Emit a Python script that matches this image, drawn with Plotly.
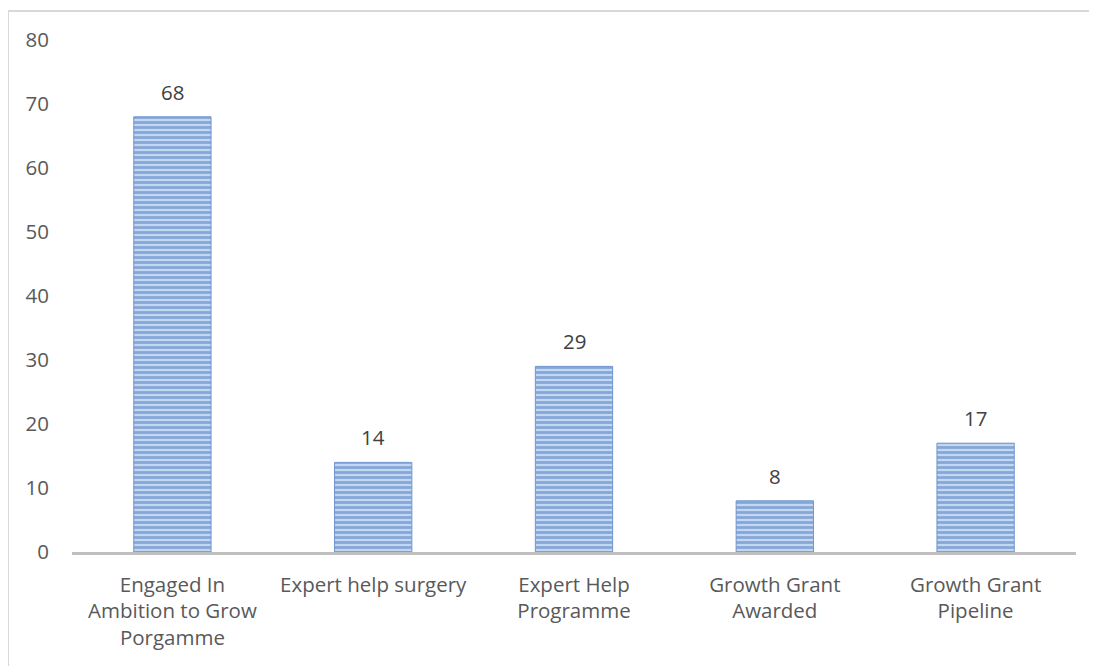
import plotly.graph_objects as go

categories = ["Engaged In<br>Ambition to Grow<br>Porgamme", "Expert help surgery",
              "Expert Help<br>Programme", "Growth Grant<br>Awarded", "Growth Grant<br>Pipeline"]
values = [68, 14, 29, 8, 17]
y_ticks = [0, 10, 20, 30, 40, 50, 60, 70, 80]

FONT = "Open Sans"
TXT = "#595959"
FS = 20.5

fig = go.Figure()
fig.add_trace(go.Bar(
    x=categories, y=values, width=0.385,
    marker=dict(
        color="#b9cfec",
        line=dict(color="#6f96cf", width=1),
        pattern=dict(shape="-", fgcolor="#4677bf", bgcolor="#c3d7f0", size=5, solidity=0.55),
    ),
    hoverinfo="skip",
))

for c, v in zip(categories, values):
    fig.add_annotation(x=c, y=v, text=str(v), showarrow=False, yshift=25,
                       font=dict(family=FONT, size=FS, color="#404040"))

fig.update_layout(
    width=1097, height=666,
    margin=dict(l=64, r=29, t=32, b=122),
    paper_bgcolor="white", plot_bgcolor="white",
    showlegend=False,
    font=dict(family=FONT, size=FS, color=TXT),
    xaxis=dict(showline=True, linecolor="#bfbfbf", linewidth=3, showgrid=False,
               ticks="outside", ticklen=12, tickcolor="rgba(0,0,0,0)",
               tickfont=dict(family=FONT, size=FS, color=TXT)),
    yaxis=dict(range=[0, 80], tickvals=y_ticks, showgrid=False, zeroline=False,
               showline=False, ticks="outside", ticklen=18, tickcolor="rgba(0,0,0,0)",
               tickfont=dict(family=FONT, size=FS, color=TXT)),
    shapes=[
        dict(type="line", xref="paper", yref="paper", x0=-0.0637, x1=-0.0637, y0=-0.3, y1=1.0566,
             line=dict(color="#d9d9d9", width=2)),
        dict(type="line", xref="paper", yref="paper", x0=-0.0637, x1=1.1, y0=1.0566, y1=1.0566,
             line=dict(color="#d9d9d9", width=2)),
    ],
)

fig.write_html("out.html")
